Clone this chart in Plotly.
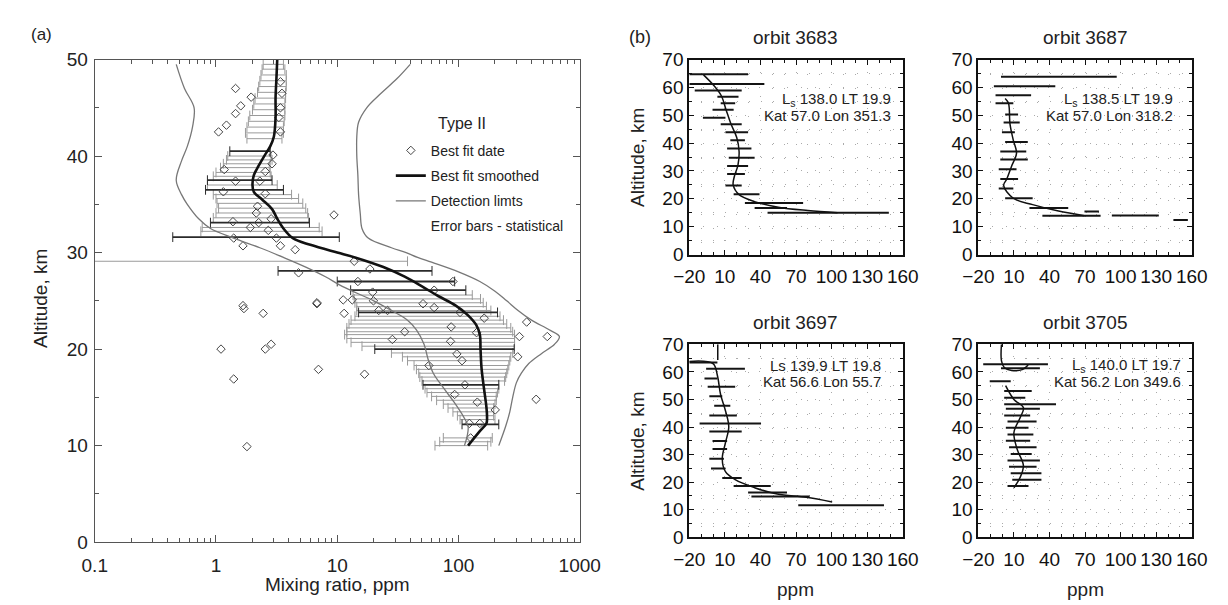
import plotly.graph_objects as go

FONT = "Liberation Sans, Arial, sans-serif"

# ---------------- panel (a): Type II composite profile ----------------
# best fit data (diamonds)
fit_alt = [47.0, 46.1, 45.2, 44.4, 43.2, 42.5, 47.7, 46.5, 45.0, 44.0, 42.5,
           40.1, 39.2, 38.6, 38.4, 37.4, 37.4, 36.3, 36.1, 34.8, 34.1, 33.9,
           33.2, 33.5, 33.1, 32.6, 32.3, 31.5, 31.5, 30.7, 30.7, 30.3, 29.1,
           28.3, 27.9, 27.0, 27.0, 25.9, 26.1, 25.1, 25.1, 24.5, 24.8,
           24.2, 23.7, 24.7, 23.7, 25.0, 24.0, 24.0, 24.7, 24.3, 23.8, 23.2,
           22.8, 22.3, 21.8, 21.7, 21.3, 21.3, 21.0, 20.8, 20.0, 20.0, 20.5,
           19.5, 18.8, 19.2, 18.3, 17.9, 17.4, 16.9, 16.3, 15.3, 14.8, 14.5,
           13.7, 12.3, 12.3, 10.8, 9.9]
fit_ppm = [1.45, 1.95, 1.6, 1.45, 1.22, 1.05, 3.4, 3.5, 3.4, 3.3, 3.4,
           2.95, 2.9, 1.17, 2.55, 1.45, 2.3, 1.15, 2.55, 2.2, 2.15, 9.4,
           1.38, 2.85, 2.25, 1.92, 2.7, 1.4, 3.15, 1.67, 3.4, 4.5, 13.8,
           18.6, 4.8, 14.8, 90, 19.6, 63, 11.2, 13.3, 1.67, 6.8,
           1.7, 2.45, 6.8, 11.4, 19.9, 22, 26, 51, 63, 103, 163,
           365, 87, 36, 141, 318, 540, 28.5, 86, 1.1, 2.55, 2.85,
           97, 107, 308, 57, 7.0, 16.8, 1.4, 113, 93, 437, 143,
           201, 123, 150, 126, 1.8]

# best fit smoothed
smooth_alt = [50, 48, 46, 44, 42, 41, 40, 39, 38, 37, 36.3, 35.5, 34.5, 33.5,
              32.5, 31.5, 30.8, 30, 29.5, 28.5, 27.5, 26.5, 25.5, 24.5, 23.5,
              22.5, 21.5, 20, 18, 16, 14, 13, 12.3, 11.5, 10]
smooth_ppm = [3.2, 3.15, 3.1, 3.1, 3.0, 2.8, 2.5, 2.25, 2.05, 2.0, 2.05, 2.4,
              2.9, 3.2, 3.6, 4.3, 6, 10, 14, 24, 36, 50, 68, 95, 120,
              140, 150, 152, 155, 162, 170, 172, 170, 150, 120]

# detection limits (lower and upper curves)
det_lo_alt = [49.5, 47, 45, 43, 41, 39.5, 37.5, 36, 35, 33.5, 32.5, 31.5, 30.5,
              29.5, 28.5, 27.5, 26.5, 25, 24, 23, 22, 20.5, 19, 17.5, 16,
              14.5, 13, 12, 11, 10]
det_lo_ppm = [0.47, 0.55, 0.66, 0.64, 0.58, 0.52, 0.47, 0.52, 0.58, 0.72, 0.9,
              1.4, 2.3, 3.6, 5.5, 8, 11, 20, 28, 38, 45, 52, 56, 62, 75,
              92, 110, 120, 118, 112]
det_hi_alt = [49.5, 48, 46.5, 45, 43.5, 42, 40, 38, 36, 34, 32.5, 31.5, 30.5,
              30, 29.5, 29, 28, 27, 26, 25, 24, 23, 22, 21.3, 20.5, 19.5,
              18.5, 17.5, 16.5, 15, 13.5, 12, 10]
det_hi_ppm = [40, 31, 23, 17.5, 15, 14.5, 14.5, 14.8, 15, 15.5, 16, 18, 28,
              37, 46, 60, 100, 150, 200, 250, 310, 400, 560, 680, 620, 480,
              380, 330, 300, 280, 265, 245, 215]

# statistical error bars (light)
bar_alt = [49.5, 49.0, 48.4, 47.8, 47.2, 46.6, 46.0, 45.4, 44.8, 44.2, 43.6,
           43.0, 42.4, 41.8, 40.0, 39.6, 39.2, 38.8, 38.3, 37.9, 37.0, 36.0,
           35.6, 35.1, 34.6, 34.1, 33.6, 32.6, 32.2, 29.1, 25.6, 25.2, 24.8,
           24.4, 24.0, 23.4, 23.0, 22.6, 22.2, 21.8, 21.5, 21.1, 20.7, 20.3,
           19.6, 19.2, 18.8, 18.3, 17.9, 17.5, 17.1, 16.7, 15.9, 15.5, 15.1,
           14.7, 14.3, 13.9, 13.5, 13.1, 12.7, 10.8, 10.4, 10.0]
bar_lo = [2.45, 2.4, 2.35, 2.3, 2.25, 2.2, 2.1, 2.05, 2.0, 1.9, 1.85,
          1.8, 1.75, 1.8, 1.25, 1.22, 1.15, 1.09, 1.0, 0.95, 0.85, 0.95,
          1.0, 1.02, 1.05, 1.0, 0.95, 0.77, 0.75, 0.09, 13.5, 13.8, 14,
          14.5, 14.5, 14, 13, 12.5, 12, 12, 11.5, 12, 13, 16,
          28, 34.5, 38, 43, 45, 47, 48, 50, 53, 55, 60,
          66, 75, 82, 90, 98, 103, 75, 70, 64]
bar_hi = [3.6, 3.7, 3.8, 3.8, 3.8, 3.75, 3.75, 3.7, 3.7, 3.7, 3.65,
          3.6, 3.6, 3.5, 2.85, 2.9, 2.8, 2.75, 2.8, 2.85, 3.2, 4.2,
          4.8, 5.2, 5.5, 5.7, 5.8, 7.1, 7.5, 38, 130, 152, 160,
          170, 185, 220, 235, 250, 270, 280, 290, 290, 290, 290,
          280, 270, 265, 260, 255, 250, 245, 240, 215, 210, 205,
          205, 200, 195, 195, 195, 200, 190, 185, 174]

# statistical error bars (dark)
bold_alt = [40.5, 37.5, 36.5, 33.1, 31.6, 28.1, 27.0, 26.1, 23.8, 20.0, 16.3, 12.2]
bold_lo = [1.3, 0.85, 0.82, 0.9, 0.44, 3.25, 10, 12.9, 15, 20.4, 51, 107]
bold_hi = [2.8, 2.9, 3.6, 5.9, 10.4, 60.5, 93, 115, 210, 288, 215, 215]

# ---------------- panel (b): individual orbits ----------------
o3683_bar_alt = [64.7, 61.2, 58.9, 56.6, 54.3, 52.0, 49.1, 46.8, 43.9, 41.0,
                 38.1, 34.7, 31.8, 28.9, 24.8, 21.6, 18.5, 16.7, 15.0]
o3683_bar_lo = [-20, -20, -15.4, 3.7, 6.5, -0.4, -8.5, 6.5, 10.5, 14.6,
                11.9, 13.3, 11.9, 11.9, 10.5, 17.4, 26.9, 35.1, 46]
o3683_bar_hi = [29.6, 43.3, 24.2, 21.5, 18.7, 17.4, 10.5, 24.2, 29.6, 26.9,
                32.4, 35.1, 29.6, 26.9, 24.2, 39.2, 76, 62.4, 148.3]
o3683_fit_alt = [64.5, 61, 57, 52, 47, 42, 37, 32, 28, 25, 21.5, 19, 17, 15.8, 15]
o3683_fit_ppm = [-8, 0, 7, 11, 15, 20, 22, 21, 18, 17, 22, 35, 55, 80, 105]

o3687_bar_alt = [63.8, 60.4, 57.2, 54.3, 50.3, 47.4, 43.9, 40.4, 37.0, 34.1,
                 30.6, 27.1, 23.7, 20.2, 16.7, 15.4, 13.9, 14.0, 12.4]
o3687_bar_lo = [-0.9, -6.9, -5.5, -5.5, 2.6, 1.3, -0.1, 2.6, -1.5, -1.5,
                -2.8, -1.5, -2.8, 2.6, 23.1, 69.5, 34, 92.6, 144.5]
o3687_bar_hi = [96.7, 44.9, 24.5, 9.5, 13.5, 14.9, 10.8, 21.7, 20.4, 21.7,
                12.2, 13.5, 9.5, 25.8, 55.8, 81.7, 83.1, 132.2, 156.7]
o3687_fit_alt = [56, 54.3, 46.8, 41, 36.4, 31.8, 27.1, 24.8, 20.2, 17.9, 15.6, 13.9]
o3687_fit_ppm = [2.6, 5.4, 6.7, 9.5, 12.2, 8.1, 4, 1.3, 9.5, 25.8, 47.6, 69.5]

o3697_bar_alt = [63.4, 61.1, 57.6, 54.6, 51.2, 47.7, 44.2, 41.3, 38.4, 34.9,
                 32.0, 28.5, 25.0, 21.5, 18.6, 16.3, 14.8, 11.6]
o3697_bar_lo = [-20, -5.8, -7.2, -4.5, -3.1, 1, -3.1, -11.3, -3.1, -0.4,
                -0.4, -3.1, -1.7, 7.8, 17.4, 29.6, 32.4, 71.9]
o3697_bar_hi = [3.7, 26.9, 3.7, 18.7, 7.8, 14.6, 20.1, 40.5, 24.2, 11.9,
                11.9, 9.2, 10.5, 24.2, 48.7, 62.4, 81.5, 144.2]
o3697_fit_alt = [70, 64.3, None, 63.8, 63, 58.7, 51.8, 45.9, 40.1, 34.3, 28.5,
                 23.8, 20.9, 18, 15.7, 14.5, 12.8]
o3697_fit_ppm = [4, 4, None, -20, 0, 3.7, 6.4, 10.5, 13.3, 10.5, 7.8,
                 10.5, 18.7, 35.1, 54.2, 78.7, 100.5]

o3705_bar_alt = [62.8, 61.3, 56.6, 53.1, 50.6, 48.3, 46.6, 44.2, 42.0, 39.7,
                 37.3, 35.0, 32.7, 30.2, 27.9, 25.6, 23.2, 20.9, 18.6]
o3705_bar_lo = [-15.9, -0.9, -10.4, 1.8, 1.8, 1.8, 3.2, 1.8, 4.6, 3.2,
                4.6, 3.2, 5.9, 7.3, 4.6, 5.9, 7.3, 8.6, 4.6]
o3705_bar_hi = [38.7, 31.9, 7.3, 25, 19.6, 45.5, 31.9, 23.7, 29.1, 22.3,
                26.4, 23.7, 29.1, 25, 31.9, 29.1, 33.2, 33.2, 22.3]
o3705_fit_alt = [70, 64, 61.5, 60.5, 60.8, 62.5, None, 55, 50, 47, 43.6, 38,
                 32, 26, 21.5, 18]
o3705_fit_ppm = [-0.5, -0.5, 2, 8, 17, 22, None, 3, 10, 18, 15.5, 10,
                 12.7, 18, 15, 10]

orbit_names = ["orbit 3683", "orbit 3687", "orbit 3697", "orbit 3705"]
orbit_line1 = ["L<sub>s</sub> 138.0 LT 19.9", "L<sub>s</sub> 138.5 LT 19.9",
               "Ls 139.9 LT 19.8", "L<sub>s</sub> 140.0 LT 19.7"]
orbit_line2 = ["Kat 57.0 Lon 351.3", "Kat 57.0 Lon 318.2",
               "Kat 56.6 Lon 55.7", "Kat 56.2 Lon 349.6"]


def segments(alt, lo, hi):
    xs, ys = [], []
    for a, l, h in zip(alt, lo, hi):
        xs += [l, h, None]
        ys += [a, a, None]
    return xs, ys


fig = go.Figure()

# panel (a) error bars
for alts, los, his, col, w in [(bar_alt, bar_lo, bar_hi, "#9a9a9a", 1.0),
                               (bold_alt, bold_lo, bold_hi, "#2a2a2a", 1.8)]:
    xs, ys = segments(alts, los, his)
    fig.add_trace(go.Scatter(x=xs, y=ys, mode="lines", line=dict(color=col, width=w),
                             showlegend=False, hoverinfo="skip"))
    fig.add_trace(go.Scatter(x=los + his, y=alts + alts, mode="markers",
                             marker=dict(symbol="line-ns", size=7,
                                         line=dict(color=col, width=1)),
                             showlegend=False, hoverinfo="skip"))

fig.add_trace(go.Scatter(x=fit_ppm, y=fit_alt, mode="markers", name="Best fit date",
                         legendgroup="g1",
                         marker=dict(symbol="diamond-open", size=6.5, color="#444",
                                     line=dict(width=1))))
fig.add_trace(go.Scatter(x=smooth_ppm, y=smooth_alt, mode="lines", name="Best fit smoothed",
                         legendgroup="g2",
                         line=dict(color="#111", width=2.6, shape="spline")))
fig.add_trace(go.Scatter(x=det_lo_ppm, y=det_lo_alt, mode="lines", name="Detection limts",
                         legendgroup="g3",
                         line=dict(color="#777", width=1.3, shape="spline")))
fig.add_trace(go.Scatter(x=det_hi_ppm, y=det_hi_alt, mode="lines", showlegend=False,
                         legendgroup="g3",
                         line=dict(color="#777", width=1.3, shape="spline")))
fig.add_trace(go.Scatter(x=[None], y=[None], mode="lines", name="Error bars - statistical",
                         legendgroup="g4", line=dict(width=0)))

# panel (b) orbits
orbit_data = [
    (o3683_bar_alt, o3683_bar_lo, o3683_bar_hi, o3683_fit_alt, o3683_fit_ppm),
    (o3687_bar_alt, o3687_bar_lo, o3687_bar_hi, o3687_fit_alt, o3687_fit_ppm),
    (o3697_bar_alt, o3697_bar_lo, o3697_bar_hi, o3697_fit_alt, o3697_fit_ppm),
    (o3705_bar_alt, o3705_bar_lo, o3705_bar_hi, o3705_fit_alt, o3705_fit_ppm),
]
for i, (ba, bl, bh, fa, fp) in enumerate(orbit_data):
    ax = str(i + 2)
    xs, ys = segments(ba, bl, bh)
    fig.add_trace(go.Scatter(x=xs, y=ys, mode="lines", xaxis="x" + ax, yaxis="y" + ax,
                             line=dict(color="#141414", width=2),
                             showlegend=False, hoverinfo="skip"))
    fig.add_trace(go.Scatter(x=fp, y=fa, mode="lines", xaxis="x" + ax, yaxis="y" + ax,
                             line=dict(color="#111", width=1.5, shape="spline"),
                             showlegend=False, hoverinfo="skip"))

# axes
minor_log = [m * 10 ** e for e in range(-1, 3) for m in range(2, 10)]
axis_a = dict(showline=True, linecolor="#555", linewidth=1.2, mirror="ticks",
              ticks="inside", ticklen=7, tickcolor="#555", showgrid=False, zeroline=False,
              tickfont=dict(family=FONT, size=19, color="#222"))
fig.update_layout(
    xaxis=dict(axis_a, type="log", range=[-1, 3], domain=[0.0594, 0.4666],
               tickvals=[0.1, 1, 10, 100, 1000], ticktext=["0.1", "1", "10", "100", "1000"],
               minor=dict(tickvals=minor_log, ticks="inside", ticklen=4, tickcolor="#555"),
               ticklabelstandoff=6, anchor="y"),
    yaxis=dict(axis_a, range=[0, 50], dtick=10, domain=[0.1025, 0.9289],
               minor=dict(dtick=5, ticks="inside", ticklen=4, tickcolor="#555"),
               ticklabelstandoff=2, anchor="x"),
)

xdom = [[0.5586, 0.7378], [0.8013, 0.9805], [0.5586, 0.7378], [0.8013, 0.9805]]
ydom = [[0.595, 0.9289], [0.595, 0.9289], [0.1107, 0.4413], [0.1107, 0.4413]]
axis_b = dict(showline=True, linecolor="#111", linewidth=2, mirror="ticks",
              ticks="inside", ticklen=5, tickcolor="#111", zeroline=False,
              showgrid=True, gridcolor="#aaa", gridwidth=1, griddash="1px,11px",
              tickfont=dict(family=FONT, size=19, color="#111"))
for i in range(4):
    n = str(i + 2)
    fig.update_layout({
        "xaxis" + n: dict(axis_b, range=[-20, 160], tick0=-20, dtick=30, domain=xdom[i],
                          anchor="y" + n, ticklabelstandoff=4,
                          minor=dict(dtick=10, tick0=-20, ticks="inside", ticklen=3,
                                     tickcolor="#111", showgrid=True, gridcolor="#aaa",
                                     griddash="1px,13px")),
        "yaxis" + n: dict(axis_b, range=[0, 70], dtick=10, domain=ydom[i], anchor="x" + n,
                          griddash="1px,13px",
                          minor=dict(dtick=5, ticks="inside", ticklen=3, tickcolor="#111",
                                     showgrid=True, gridcolor="#aaa", griddash="1px,11px")),
    })

# annotations
ann = []
def text(x, y, s, size=19, xanchor="center", yanchor="middle", angle=0, **kw):
    ann.append(dict(x=x, y=y, text=s, showarrow=False, xanchor=xanchor, yanchor=yanchor,
                    textangle=angle, font=dict(family=FONT, size=size, color="#222"), **kw))

text(0.004, 0.972, "(a)", size=17, xanchor="left", xref="paper", yref="paper")
text(0.506, 0.967, "(b)", size=18, xanchor="left", xref="paper", yref="paper")
text(0.346, 0.82, "Type II", size=16, xanchor="left", xref="paper", yref="paper")
text(0.014, 0.52, "Altitude, km", angle=-90, xref="paper", yref="paper")
text(0.263, 0.030, "Mixing ratio, ppm", xref="paper", yref="paper")
text(0.5155, 0.762, "Altitude, km", angle=-90, xref="paper", yref="paper")
text(0.5155, 0.276, "Altitude, km", angle=-90, xref="paper", yref="paper")
text(0.648, 0.0215, "ppm", xref="paper", yref="paper")
text(0.891, 0.0215, "ppm", xref="paper", yref="paper")

title_pos = [(0.648, 0.967), (0.891, 0.967), (0.648, 0.479), (0.891, 0.479)]
lbl_x = [152, 146, 143, 153]
lbl_y = [(55.8, 50.0), (55.7, 49.9), (62.4, 56.6), (62.4, 56.6)]
for i in range(4):
    n = str(i + 2)
    text(title_pos[i][0], title_pos[i][1], orbit_names[i], xref="paper", yref="paper")
    text(lbl_x[i], lbl_y[i][0], orbit_line1[i], size=15, xanchor="right",
         xref="x" + n, yref="y" + n)
    text(lbl_x[i], lbl_y[i][1], orbit_line2[i], size=15, xanchor="right",
         xref="x" + n, yref="y" + n)

fig.update_layout(
    annotations=ann,
    width=1228, height=605,
    margin=dict(l=0, r=0, t=0, b=0),
    paper_bgcolor="white", plot_bgcolor="white",
    font=dict(family=FONT, color="#222"),
    legend=dict(x=0.308, y=0.80, xanchor="left", yanchor="top",
                bgcolor="rgba(0,0,0,0)", font=dict(family=FONT, size=14, color="#222"),
                tracegroupgap=4),
)

fig.write_html("out.html")
